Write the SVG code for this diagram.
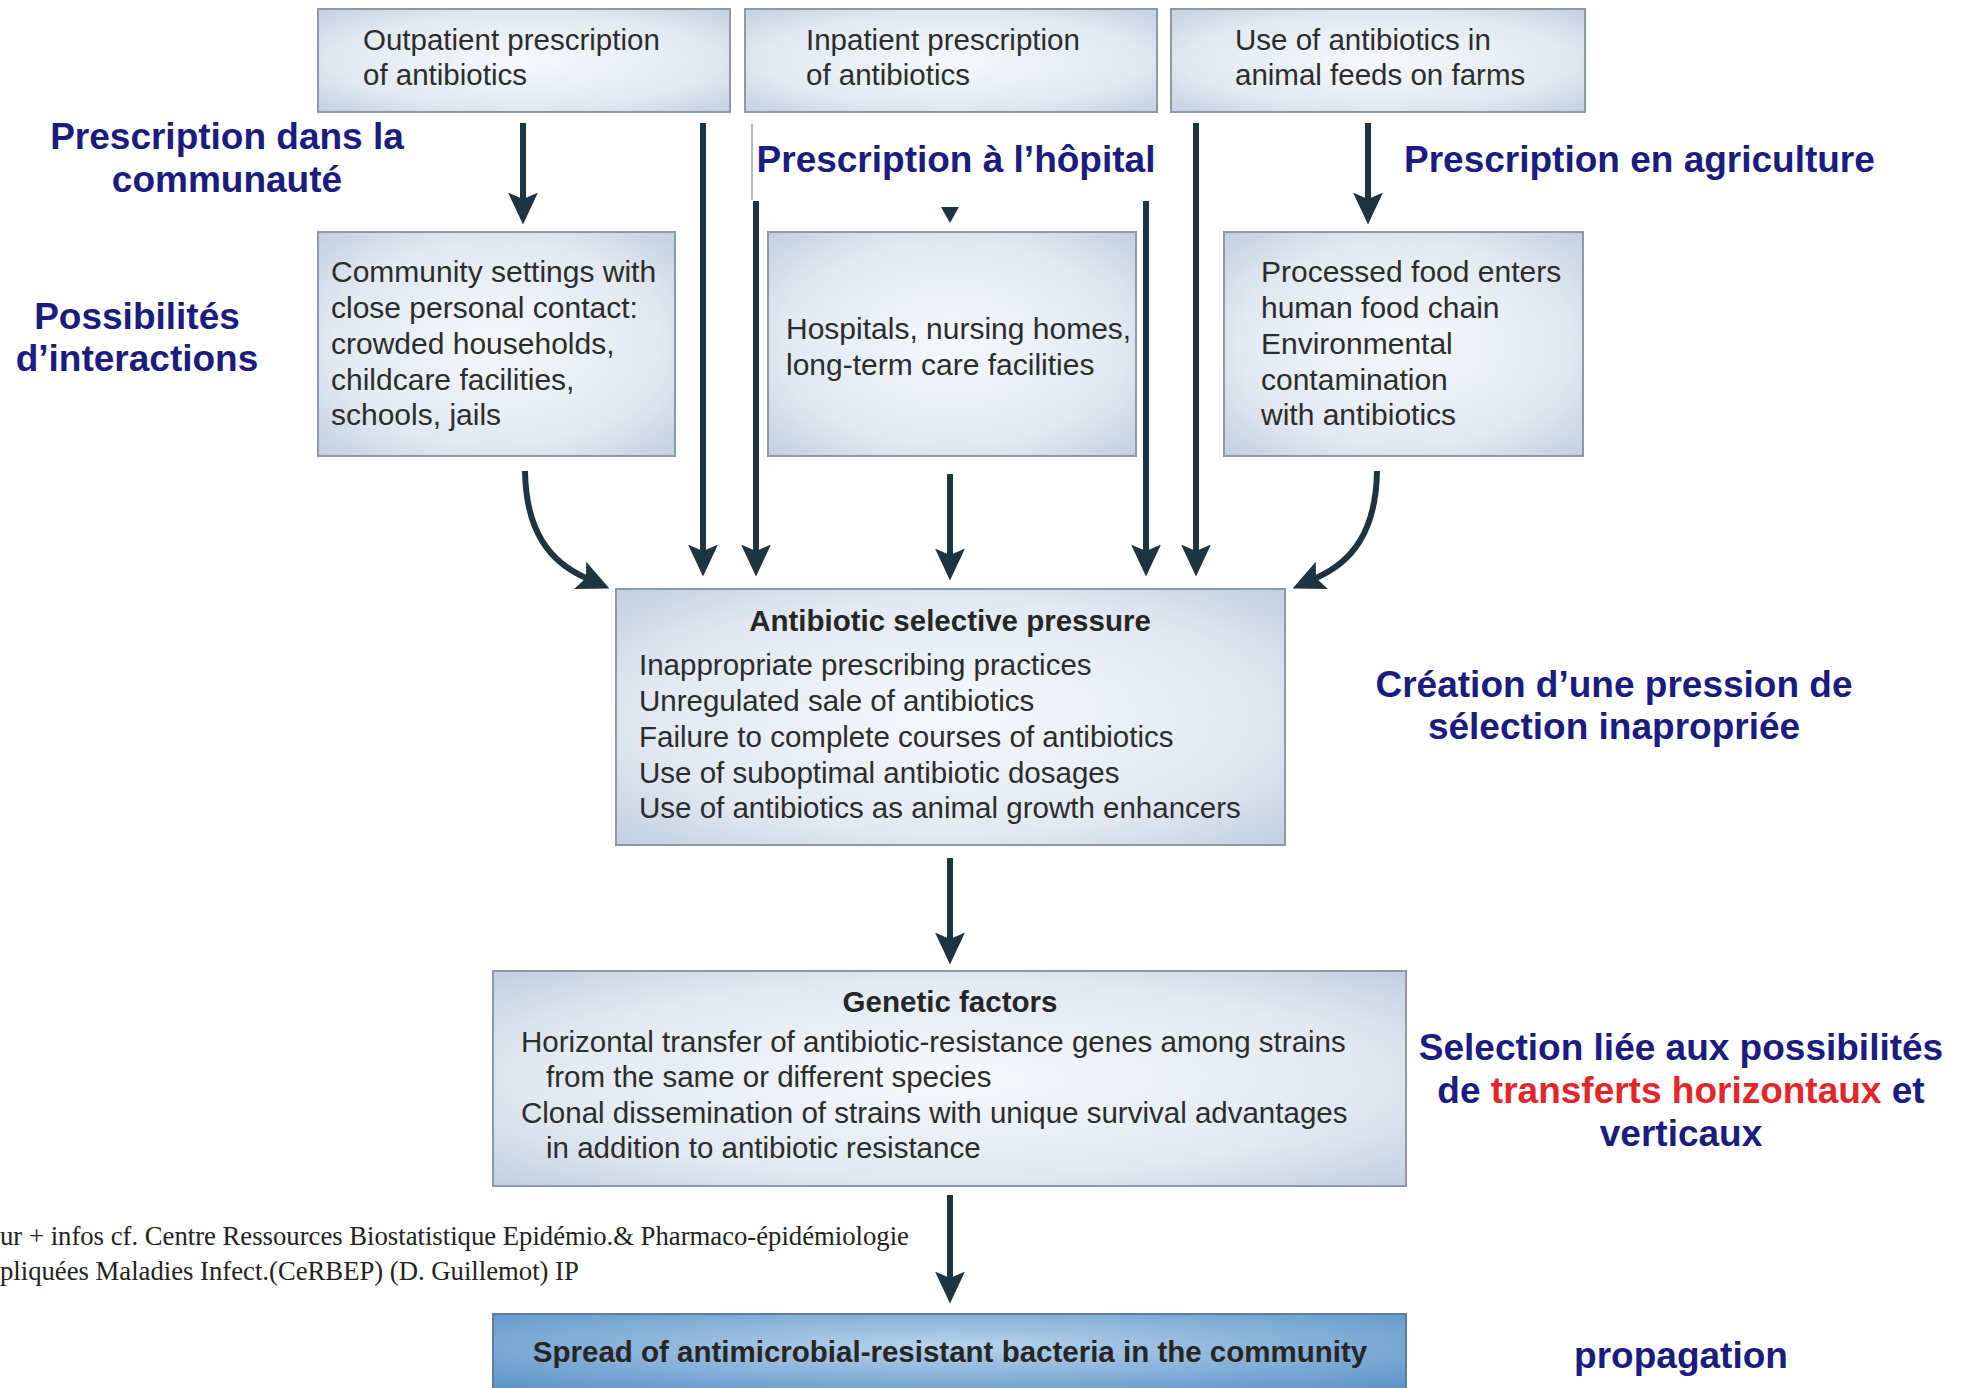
<svg xmlns="http://www.w3.org/2000/svg" width="1968" height="1388" viewBox="0 0 1968 1388">
<defs>
<radialGradient id="boxg" cx="50%" cy="50%" r="75%">
<stop offset="0" stop-color="#f6f8fb"/>
<stop offset="0.6" stop-color="#e2e9f2"/>
<stop offset="1" stop-color="#bccbdd"/>
</radialGradient>
<radialGradient id="spreadg" cx="50%" cy="40%" r="70%">
<stop offset="0" stop-color="#b8d3ec"/>
<stop offset="1" stop-color="#5f95c8"/>
</radialGradient>
<marker id="ah" viewBox="0 0 30 30" markerUnits="userSpaceOnUse" markerWidth="32" markerHeight="32" refX="6" refY="15" orient="auto">
<path d="M0,1 L30,15 L0,29 L6,15 z" fill="#1f3441"/>
</marker>
<style>
.box{fill:url(#boxg);stroke:#8d99a6;stroke-width:2}
.txt{font-family:"Liberation Sans",Arial,sans-serif;font-size:29.5px;fill:#2c2c2c}
.big{font-size:30px}
.ttl{font-family:"Liberation Sans",Arial,sans-serif;font-size:29.5px;font-weight:bold;fill:#262626;text-anchor:middle}
.lbl{font-family:"Liberation Sans",Arial,sans-serif;font-size:37px;font-weight:bold;fill:#1b1b80}
.mid{text-anchor:middle}
.red{fill:#e4262a}
.conn{fill:none;stroke:#1f3441;stroke-width:6;marker-end:url(#ah)}
.foot{font-family:"Liberation Serif","Times New Roman",serif;font-size:26.7px;fill:#222}
</style>
</defs>
<rect width="1968" height="1388" fill="#ffffff"/>

<g id="node-outpatient">
<rect class="box" x="318" y="9" width="412" height="103"/>
<text class="txt" x="363" y="50">Outpatient prescription</text>
<text class="txt" x="363" y="85">of antibiotics</text>
</g>
<g id="node-inpatient">
<rect class="box" x="745" y="9" width="412" height="103"/>
<text class="txt" x="806" y="50">Inpatient prescription</text>
<text class="txt" x="806" y="85">of antibiotics</text>
</g>
<g id="node-farms">
<rect class="box" x="1171" y="9" width="414" height="103"/>
<text class="txt" x="1235" y="50">Use of antibiotics in</text>
<text class="txt" x="1235" y="85">animal feeds on farms</text>
</g>

<g id="node-community">
<rect class="box" x="318" y="232" width="357" height="224"/>
<text class="txt big" x="331" y="282">Community settings with</text>
<text class="txt big" x="331" y="318">close personal contact:</text>
<text class="txt big" x="331" y="354">crowded households,</text>
<text class="txt big" x="331" y="390">childcare facilities,</text>
<text class="txt big" x="331" y="425">schools, jails</text>
</g>
<g id="node-hospitals">
<rect class="box" x="768" y="232" width="368" height="224"/>
<text class="txt big" x="786" y="339">Hospitals, nursing homes,</text>
<text class="txt big" x="786" y="375">long-term care facilities</text>
</g>
<g id="node-food">
<rect class="box" x="1224" y="232" width="359" height="224"/>
<text class="txt big" x="1261" y="282">Processed food enters</text>
<text class="txt big" x="1261" y="318">human food chain</text>
<text class="txt big" x="1261" y="354">Environmental</text>
<text class="txt big" x="1261" y="390">contamination</text>
<text class="txt big" x="1261" y="425">with antibiotics</text>
</g>

<g id="node-pressure">
<rect class="box" x="616" y="589" width="669" height="256"/>
<text class="ttl" x="950" y="631">Antibiotic selective pressure</text>
<text class="txt" x="639" y="675">Inappropriate prescribing practices</text>
<text class="txt" x="639" y="711">Unregulated sale of antibiotics</text>
<text class="txt" x="639" y="747">Failure to complete courses of antibiotics</text>
<text class="txt" x="639" y="783">Use of suboptimal antibiotic dosages</text>
<text class="txt" x="639" y="818">Use of antibiotics as animal growth enhancers</text>
</g>

<g id="node-genetic">
<rect class="box" x="493" y="971" width="913" height="215"/>
<text class="ttl" x="950" y="1012">Genetic factors</text>
<text class="txt" x="521" y="1052">Horizontal transfer of antibiotic-resistance genes among strains</text>
<text class="txt" x="546" y="1087">from the same or different species</text>
<text class="txt" x="521" y="1123">Clonal dissemination of strains with unique survival advantages</text>
<text class="txt" x="546" y="1158">in addition to antibiotic resistance</text>
</g>

<g id="node-spread">
<rect x="493" y="1314" width="913" height="80" fill="url(#spreadg)" stroke="#5a7fa3" stroke-width="2"/>
<text class="ttl" x="950" y="1362">Spread of antimicrobial-resistant bacteria in the community</text>
</g>

<g id="connectors">
<line class="conn" x1="523" y1="123" x2="523" y2="199"/>
<line class="conn" x1="703" y1="123" x2="703" y2="551"/>
<line class="conn" x1="756" y1="201" x2="756" y2="551"/>
<line class="conn" x1="1146" y1="201" x2="1146" y2="551"/>
<line class="conn" x1="1196" y1="123" x2="1196" y2="551"/>
<line class="conn" x1="1368" y1="123" x2="1368" y2="199"/>
<line class="conn" x1="950" y1="474" x2="950" y2="555"/>
<path class="conn" d="M525,471 C526,532 550,562 586,578"/>
<path class="conn" d="M1377,471 C1376,532 1352,562 1316,578"/>
<line class="conn" x1="950" y1="858" x2="950" y2="939"/>
<line class="conn" x1="950" y1="1195" x2="950" y2="1278"/>
<polygon points="941,207 959,207 950,223" fill="#1f3441"/>
</g>

<g id="label-hopital">
<rect x="751" y="123" width="404" height="78" fill="#ffffff"/>
<line x1="752" y1="124" x2="752" y2="200" stroke="#9aa3ab" stroke-width="1.5"/>
<text class="lbl mid" x="956" y="172">Prescription à l’hôpital</text>
</g>

<g id="labels">
<text class="lbl mid" x="227" y="149">Prescription dans la</text>
<text class="lbl mid" x="227" y="192">communauté</text>
<text class="lbl" x="1404" y="172">Prescription en agriculture</text>
<text class="lbl mid" x="137" y="329">Possibilités</text>
<text class="lbl mid" x="137" y="371">d’interactions</text>
<text class="lbl mid" x="1614" y="697">Création d’une pression de</text>
<text class="lbl mid" x="1614" y="739">sélection inapropriée</text>
<text class="lbl mid" x="1681" y="1060">Selection liée aux possibilités</text>
<text class="lbl mid" x="1681" y="1103">de <tspan class="red">transferts horizontaux</tspan> et</text>
<text class="lbl mid" x="1681" y="1146">verticaux</text>
<text class="lbl mid" x="1681" y="1368">propagation</text>
</g>

<g id="footnote">
<text class="foot" x="0" y="1245">ur + infos cf. Centre Ressources Biostatistique Epidémio.&amp; Pharmaco-épidémiologie</text>
<text class="foot" x="0" y="1280">pliquées Maladies Infect.(CeRBEP) (D. Guillemot) IP</text>
</g>
</svg>
